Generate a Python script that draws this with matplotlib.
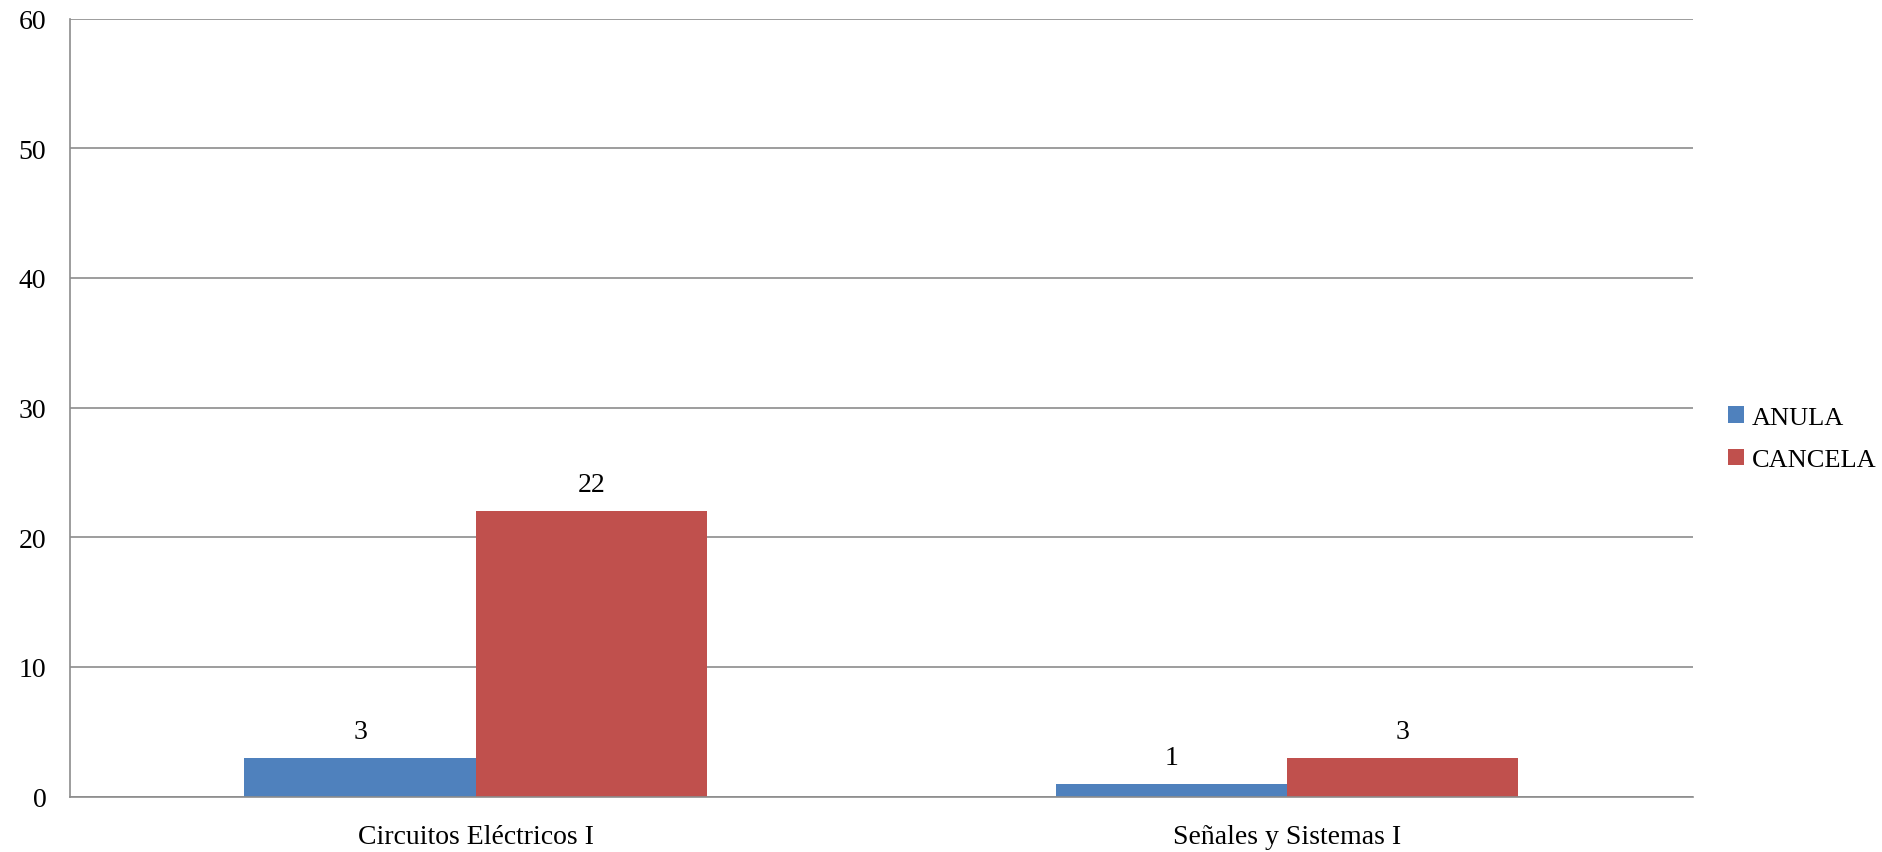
#!/usr/bin/env python3
"""Grouped bar chart: ANULA vs CANCELA per course."""

import matplotlib

matplotlib.use("Agg")
import matplotlib.pyplot as plt
import numpy as np

categories = ["Circuitos Eléctricos I", "Señales y Sistemas I"]
anula = [3, 1]
cancela = [22, 3]
series_names = ["ANULA", "CANCELA"]
y_ticks = [0, 10, 20, 30, 40, 50, 60]

BLUE = "#4F81BD"
RED = "#C0504D"
GRID = "#8C8C8C"

plt.rcParams["font.family"] = ["Liberation Serif", "DejaVu Serif"]

fig = plt.figure(figsize=(18.83, 8.53), dpi=100)
ax = fig.add_axes([0.0372, 0.065, 0.8618, 0.912])

x = np.arange(len(categories))
width = 0.285
bars_a = ax.bar(x - width / 2, anula, width, color=BLUE, label=series_names[0])
bars_c = ax.bar(x + width / 2, cancela, width, color=RED, label=series_names[1])

for bars in (bars_a, bars_c):
    for rect in bars:
        h = rect.get_height()
        ax.annotate(
            f"{h:g}",
            (rect.get_x() + rect.get_width() / 2, h),
            xytext=(0, 10),
            textcoords="offset points",
            ha="center",
            va="bottom",
            fontsize=20,
        )

ax.set_xlim(-0.5, 1.5)
ax.set_ylim(0, 60)
ax.set_yticks(y_ticks)
ax.set_xticks(x)
ax.set_xticklabels(categories, fontsize=20)
ax.tick_params(axis="y", labelsize=20, length=0, pad=17)
ax.tick_params(axis="x", length=0, pad=20)

ax.yaxis.grid(True, color=GRID, linewidth=1.2)
ax.set_axisbelow(True)
for side in ("top", "right"):
    ax.spines[side].set_visible(False)
for side in ("left", "bottom"):
    ax.spines[side].set_color(GRID)
    ax.spines[side].set_linewidth(1.2)

ax.legend(
    loc="center left",
    bbox_to_anchor=(1.015, 0.46),
    borderaxespad=0,
    frameon=False,
    fontsize=19,
    handlelength=0.6,
    handleheight=0.6,
    handletextpad=0.3,
    labelspacing=0.75,
)

fig.savefig("out.png", dpi=100)
